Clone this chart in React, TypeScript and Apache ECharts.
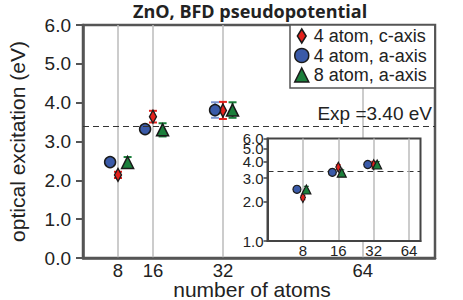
import React, { useEffect, useRef } from "react";
import * as echarts from "echarts";

// ---- data ----
const atoms = [8, 16, 32];
const cAxis4 = [2.14, 3.64, 3.8];
const cAxis4Err = [0.08, 0.15, 0.22];
const aAxis4 = [2.47, 3.32, 3.81];
const aAxis4Err = [0.05, 0.06, 0.2];
const aAxis8 = [2.46, 3.3, 3.81];
const aAxis8Err = [0.14, 0.17, 0.2];
const xTickValues = [8, 16, 32, 64];
// inset y tick labels, split into groups so that close-set labels are all kept
const insetYTickGroups = [[1, 2, 3, 4], [5], [6]];
const expValue = 3.4;
const expLabel = "Exp =3.40 eV";
const seriesNames = ["4 atom, c-axis", "4 atom, a-axis", "8 atom, a-axis"];
const titleText = "ZnO, BFD pseudopotential";
const xName = "number of atoms";
const yName = "optical excitation (eV)";

// display offsets so overlapping markers can be seen
const mainShift = [0, -1.8, 2.2];
const insetFactor = [1, 0.89, 1.07];

const RED = "#e3211c";
const BLUE = "#3a5aa8";
const GREEN = "#1b7f3b";
const EDGE = "#1a1a1a";
const FONT = "Liberation Sans";

function errSeries(xs: number[], ys: number[], errs: number[], color: string, axis: number, cap: number, lw: number, z: number) {
  return {
    type: "custom",
    xAxisIndex: axis,
    yAxisIndex: axis,
    z,
    silent: true,
    data: xs.map((x, i) => [x, ys[i], errs[i]]),
    encode: { x: 0, y: 1 },
    renderItem: (_p: any, api: any) => {
      const x = api.value(0);
      const y = api.value(1);
      const e = api.value(2);
      const t = api.coord([x, y + e]);
      const b = api.coord([x, y - e]);
      const st = { stroke: color, lineWidth: lw };
      return {
        type: "group",
        children: [
          { type: "line", shape: { x1: t[0], y1: t[1], x2: b[0], y2: b[1] }, style: st },
          { type: "line", shape: { x1: t[0] - cap, y1: t[1], x2: t[0] + cap, y2: t[1] }, style: st },
          { type: "line", shape: { x1: b[0] - cap, y1: b[1], x2: b[0] + cap, y2: b[1] }, style: st },
        ],
      };
    },
  };
}

export default function App() {
  const ref = useRef<HTMLDivElement>(null);
  useEffect(() => {
    if (!ref.current) return;
    const chart = echarts.init(ref.current, undefined, { renderer: "svg" });
    const vals = [cAxis4, aAxis4, aAxis8];
    const errs = [cAxis4Err, aAxis4Err, aAxis8Err];
    const colors = [RED, BLUE, GREEN];
    const errColors = [RED, "#7d95cf", GREEN];
    const symbols = ["diamond", "circle", "triangle"];
    const mainSizes: any[] = [[7, 13], 11, 12];
    const insetSizes: any[] = [[5, 10], 8, 9];

    const series: any[] = [];
    for (let k = 0; k < 3; k++) {
      const xs = atoms.map((a) => a + mainShift[k]);
      series.push(errSeries(xs, vals[k], errs[k], errColors[k], 0, 4, 2, 2));
    }
    for (let k = 0; k < 3; k++) {
      const xs = atoms.map((a) => a + mainShift[k]);
      const s: any = {
        type: "scatter",
        name: seriesNames[k],
        xAxisIndex: 0,
        yAxisIndex: 0,
        z: 3,
        symbol: symbols[k],
        symbolSize: mainSizes[k],
        itemStyle: { color: colors[k], borderColor: EDGE, borderWidth: 1.5, opacity: 1 },
        data: xs.map((x, i) => [x, vals[k][i]]),
      };
      if (k === 0) {
        s.markLine = {
          silent: true,
          symbol: "none",
          lineStyle: { type: [6, 4], color: "#333", width: 1.2 },
          label: {
            show: true,
            position: "insideEndTop",
            formatter: expLabel,
            fontSize: 19,
            fontFamily: FONT,
            color: "#222",
            distance: 3,
          },
          data: [{ yAxis: expValue }],
        };
      }
      series.push(s);
    }
    for (let k = 0; k < 3; k++) {
      const xs = atoms.map((a) => a * insetFactor[k]);
      series.push(errSeries(xs, vals[k], errs[k], errColors[k], 1, 2.5, 1.2, 10));
    }
    for (let k = 0; k < 3; k++) {
      const xs = atoms.map((a) => a * insetFactor[k]);
      const s: any = {
        type: "scatter",
        xAxisIndex: 1,
        yAxisIndex: 1,
        z: 11,
        symbol: symbols[k],
        symbolSize: insetSizes[k],
        itemStyle: { color: colors[k], borderColor: EDGE, borderWidth: 1.2, opacity: 1 },
        data: xs.map((x, i) => [x, vals[k][i]]),
      };
      if (k === 0) {
        s.markLine = {
          silent: true,
          symbol: "none",
          lineStyle: { type: [6, 4], color: "#333", width: 1.2 },
          label: { show: false },
          data: [{ yAxis: expValue }],
        };
      }
      series.push(s);
    }

    const insetYAxes = insetYTickGroups.map((vals, i) => ({
      type: "log",
      gridIndex: 1,
      position: "left",
      offset: 0,
      min: 1,
      max: 6,
      z: 6,
      axisLine: { show: i === 0, lineStyle: { color: "#444", width: 2 } },
      axisTick: { show: true, inside: false, length: 4, customValues: vals, lineStyle: { color: "#444", width: 1.5 } },
      axisLabel: {
        customValues: vals,
        fontFamily: FONT,
        fontSize: 15,
        color: "#222",
        margin: 4,
        hideOverlap: false,
        showMinLabel: true,
        showMaxLabel: true,
        formatter: (v: number) => v.toFixed(1),
      },
      splitLine: { show: false },
    }));

    const option: any = {
      animation: false,
      backgroundColor: "#fff",
      title: {
        text: titleText,
        left: 133,
        top: 2,
        padding: 0,
        textStyle: { fontFamily: "Open Sans", fontWeight: "bold", fontSize: 18, color: "#222" },
      },
      legend: {
        orient: "vertical",
        left: 290,
        top: 25,
        padding: [2, 8, 4, 4],
        itemGap: 1.5,
        itemWidth: 14,
        itemHeight: 14,
        backgroundColor: "#fff",
        borderColor: "#555",
        borderWidth: 1.5,
        borderRadius: 0,
        textStyle: { fontFamily: FONT, fontSize: 18, color: "#222" },
        data: [
          { name: seriesNames[0], icon: "path://M5,0 L10,8 L5,16 L0,8 Z", itemStyle: { color: RED, borderColor: EDGE, borderWidth: 1.5 } },
          { name: seriesNames[1], icon: "circle", itemStyle: { color: BLUE, borderColor: EDGE, borderWidth: 1.5 } },
          { name: seriesNames[2], icon: "triangle", itemStyle: { color: GREEN, borderColor: EDGE, borderWidth: 1.5 } },
        ],
        selectedMode: false,
      },
      grid: [
        { left: 83, right: 28, top: 25, bottom: 42, show: true, borderColor: "#555", borderWidth: 2.5, backgroundColor: "transparent", z: 0, outerBoundsMode: "none", containLabel: false },
        { left: 267.5, top: 138.5, width: 153, height: 102.5, show: true, borderColor: "#444", borderWidth: 2, backgroundColor: "#fff", z: 5, outerBoundsMode: "none", containLabel: false },
      ],
      xAxis: [
        {
          type: "value",
          gridIndex: 0,
          min: 0,
          max: 80.5,
          name: xName,
          nameLocation: "middle",
          nameGap: 22.5,
          nameMoveOverlap: false,
          nameTextStyle: { fontFamily: FONT, fontSize: 21, lineHeight: 18, color: "#222", padding: [0, 14, 0, 0] },
          axisLine: { show: true, lineStyle: { color: "#555", width: 2.5 } },
          axisTick: { show: false, customValues: xTickValues },
          axisLabel: { customValues: xTickValues, fontFamily: FONT, fontSize: 18.5, lineHeight: 16, color: "#222", margin: 4, hideOverlap: false },
          splitLine: { show: true, lineStyle: { color: "#bbb", width: 1.5 } },
        },
        {
          type: "log",
          logBase: 2,
          gridIndex: 1,
          min: 4,
          max: 80,
          z: 6,
          axisLine: { show: true, lineStyle: { color: "#444", width: 2 } },
          axisTick: { show: false, customValues: xTickValues },
          axisLabel: { customValues: xTickValues, fontFamily: FONT, fontSize: 15, color: "#222", margin: 2, hideOverlap: false },
          splitLine: { show: true, lineStyle: { color: "#bbb", width: 1.5 } },
        },
      ],
      yAxis: [
        {
          type: "value",
          gridIndex: 0,
          min: 0,
          max: 6,
          interval: 1,
          name: yName,
          nameLocation: "middle",
          nameGap: 55,
          nameMoveOverlap: false,
          nameTextStyle: { fontFamily: FONT, fontSize: 21, color: "#222" },
          axisLine: { show: true, lineStyle: { color: "#555", width: 2.5 } },
          axisTick: { show: true, inside: false, length: 7, lineStyle: { color: "#555", width: 2 } },
          axisLabel: { fontFamily: FONT, fontSize: 19, color: "#222", margin: 12, formatter: (v: number) => v.toFixed(1) },
          splitLine: { show: false },
        },
        ...insetYAxes,
      ],
      series,
    };
    chart.setOption(option);
    return () => chart.dispose();
  }, []);
  return <div ref={ref} style={{ position: "absolute", left: 0, top: 0, width: 463, height: 300 }} />;
}
